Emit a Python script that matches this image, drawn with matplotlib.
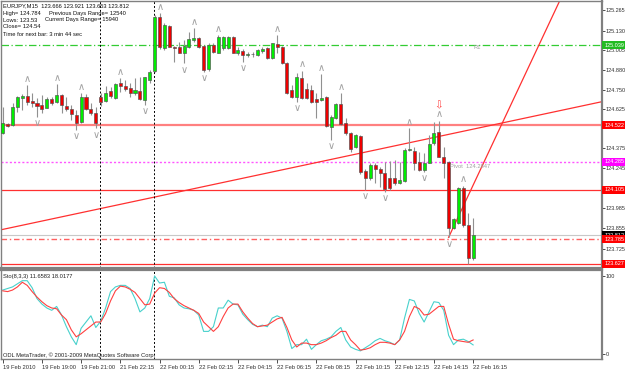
import matplotlib
matplotlib.use('Agg')
import matplotlib.pyplot as plt
import matplotlib.transforms as mtransforms
from matplotlib.patches import Rectangle

# ---------------- data ----------------
opens = [124.469, 124.530, 124.523, 124.637, 124.697, 124.710, 124.678, 124.667, 124.650, 124.635,
         124.689, 124.674, 124.717, 124.648, 124.624, 124.588, 124.545, 124.702, 124.624, 124.598,
         124.706, 124.680, 124.742, 124.695, 124.792, 124.777, 124.760, 124.727, 124.745, 124.684,
         124.813, 124.874, 125.222, 125.018, 125.162, 125.028, 125.028, 124.990, 125.028, 125.071,
         125.082, 125.033, 124.882, 125.039, 124.990, 125.018, 125.018, 125.093, 124.990, 125.003,
         124.975, 124.979, 124.973, 125.003, 125.018, 124.953, 125.044, 125.028, 124.921, 124.749,
         124.706, 124.828, 124.753, 124.749, 124.689, 124.684, 124.702, 124.508, 124.566, 124.659,
         124.534, 124.469, 124.379, 124.452, 124.228, 124.179, 124.265, 124.237, 124.211, 124.179,
         124.179, 124.147, 124.164, 124.362, 124.358, 124.287, 124.233, 124.280, 124.405, 124.476,
         124.319, 124.287, 123.856, 123.893, 124.114, 123.878, 123.666]
highs = [124.637, 124.538, 124.663, 124.710, 124.723, 124.781, 124.732, 124.695, 124.717, 124.706,
         124.706, 124.788, 124.723, 124.706, 124.652, 124.620, 124.727, 124.721, 124.663, 124.641,
         124.727, 124.775, 124.766, 124.792, 124.824, 124.813, 124.792, 124.824, 124.831, 124.835,
         124.878, 125.233, 125.243, 125.179, 125.168, 125.033, 125.061, 125.071, 125.125, 125.147,
         125.093, 125.039, 125.050, 125.054, 125.104, 125.097, 125.097, 125.097, 125.028, 125.011,
         124.996, 124.996, 125.011, 125.028, 125.024, 125.054, 125.104, 125.033, 124.932, 124.781,
         124.861, 124.874, 124.792, 124.781, 124.727, 124.852, 124.710, 124.588, 124.663, 124.727,
         124.566, 124.480, 124.463, 124.459, 124.237, 124.276, 124.276, 124.254, 124.287, 124.293,
         124.297, 124.287, 124.373, 124.502, 124.383, 124.351, 124.340, 124.459, 124.545, 124.551,
         124.383, 124.291, 123.921, 124.121, 124.130, 123.953, 123.921]
lows = [124.465, 124.508, 124.517, 124.609, 124.620, 124.652, 124.641, 124.577, 124.598, 124.631,
        124.652, 124.663, 124.598, 124.616, 124.555, 124.491, 124.538, 124.620, 124.588, 124.502,
        124.646, 124.674, 124.695, 124.689, 124.738, 124.745, 124.702, 124.717, 124.684, 124.652,
        124.792, 124.867, 125.011, 125.007, 125.024, 124.932, 124.985, 124.921, 125.018, 125.061,
        125.018, 124.867, 124.874, 124.985, 124.985, 125.007, 125.011, 124.985, 124.975, 124.932,
        124.960, 124.960, 124.968, 124.985, 124.947, 124.949, 124.985, 124.917, 124.723, 124.695,
        124.674, 124.691, 124.691, 124.667, 124.566, 124.680, 124.512, 124.426, 124.560, 124.523,
        124.459, 124.351, 124.373, 124.207, 124.104, 124.168, 124.147, 124.125, 124.093, 124.104,
        124.136, 124.142, 124.158, 124.358, 124.233, 124.228, 124.222, 124.276, 124.394, 124.315,
        124.179, 123.798, 123.850, 123.884, 123.867, 123.626, 123.653]
closes = [124.534, 124.517, 124.637, 124.702, 124.710, 124.674, 124.667, 124.646, 124.624, 124.689,
          124.667, 124.717, 124.652, 124.624, 124.594, 124.538, 124.702, 124.624, 124.598, 124.538,
          124.674, 124.732, 124.710, 124.788, 124.777, 124.755, 124.727, 124.749, 124.691, 124.831,
          124.867, 125.222, 125.028, 125.168, 125.028, 125.022, 124.990, 125.033, 125.076, 125.082,
          125.028, 124.878, 125.039, 124.996, 125.093, 125.093, 125.093, 124.990, 125.007, 124.975,
          124.983, 124.981, 125.007, 125.016, 124.953, 125.050, 125.028, 124.921, 124.727, 124.706,
          124.835, 124.695, 124.695, 124.674, 124.674, 124.697, 124.517, 124.577, 124.659, 124.530,
          124.469, 124.366, 124.459, 124.222, 124.179, 124.265, 124.237, 124.211, 124.108, 124.114,
          124.151, 124.168, 124.362, 124.370, 124.280, 124.233, 124.276, 124.401, 124.469, 124.319,
          124.280, 123.856, 123.915, 124.114, 123.878, 123.663, 123.812]

fractal_up = [5, 11, 16, 24, 32, 39, 44, 56, 61, 65, 69, 83, 89, 94]
fractal_down = [7, 15, 19, 29, 37, 41, 49, 60, 67, 74, 78, 86, 91]
signal_bar = 89

stoch_main = [82, 84, 86, 90, 94, 94, 85, 71, 64, 59, 56, 61, 50, 35, 22, 12, 33, 41, 49, 34,
              42, 59, 80, 86, 88, 88, 84, 71, 54, 59, 71, 100, 91, 92, 74, 72, 63, 59, 58, 56,
              50, 29, 29, 35, 59, 59, 69, 64, 63, 51, 44, 38, 35, 37, 35, 46, 49, 46, 29, 7,
              12, 12, 19, 6, 12, 17, 19, 22, 29, 34, 18, 9, 6, 4, 8, 12, 17, 20, 17, 15,
              12, 18, 46, 70, 68, 52, 41, 54, 67, 66, 56, 24, 12, 18, 19, 16, 11.6583]
stoch_signal = [81, 80, 82, 86, 92, 88, 80, 73, 67, 62, 59, 58, 50, 44, 31, 22, 26, 31, 36, 41,
                41, 52, 68, 81, 87, 86, 83, 79, 71, 63, 64, 78, 85, 84, 79, 71, 66, 62, 59, 56,
                52, 41, 35, 29, 35, 48, 59, 64, 64, 54, 46, 39, 35, 36, 37, 41, 45, 47, 34, 18,
                9, 14, 14, 12, 12, 14, 17, 21, 24, 29, 29, 18, 12, 5, 6, 8, 12, 15, 15, 14,
                12, 18, 29, 48, 61, 58, 50, 51, 56, 61, 61, 38, 19, 17, 16, 15, 18.0177]

# horizontal levels: (price, label, colour, linestyle, width, label box colour)
levels = [
    (125.039, '125.039', '#33cc33', (0, (6, 2, 1, 2)), 0.9, '#22bb22'),
    (124.522, '124.522', '#ff8080', '-', 1.6, '#ff0000'),
    (124.285, '124.285', '#ff55ff', (0, (1.5, 1.5)), 1.0, '#ff00ff'),
    (124.105, '124.105', '#ff3030', '-', 0.9, '#ff0000'),
    (123.812, '123.812', '#c8c8c8', '-', 0.8, '#000000'),
    (123.785, '123.785', '#ff6060', (0, (4, 2, 1, 2)), 1.0, '#ff0000'),
    (123.627, '123.627', '#ff3030', '-', 0.9, '#ff0000'),
]
pivot_value = 124.2847

trend1 = [(0, 123.849), (100, 124.523)]
trend2 = [(91, 123.798), (97, 124.202)]

separators = [19.9, 30.9]

price_ticks = [125.265, 125.130, 125.005, 124.880, 124.750, 124.625, 124.375, 124.245,
               123.985, 123.855, 123.725]
time_idx = [0, 8, 16, 24, 32, 40, 48, 56, 64, 72, 80, 88, 96]
time_labels = ['19 Feb 2010', '19 Feb 19:00', '19 Feb 21:00', '21 Feb 22:15', '22 Feb 00:15',
               '22 Feb 02:15', '22 Feb 04:15', '22 Feb 06:15', '22 Feb 08:15', '22 Feb 10:15',
               '22 Feb 12:15', '22 Feb 14:15', '22 Feb 16:15']

header = ['EURJPY,M15  123.666 123.921 123.653 123.812',
          'High= 124.784', 'Lows: 123.53', 'Close= 124.54', 'Time for next bar: 3 min 44 sec']
header_right = ['Previous Days Range= 12540', 'Current Days Range= 15940']

# ---------------- drawing ----------------
FONT = ['Liberation Sans', 'DejaVu Sans']
plt.rcParams['font.family'] = FONT
FS = 4.15
FSR = 4.0
W, H = 625, 370
fig = plt.figure(figsize=(W / 100, H / 100), dpi=100)
fig.patch.set_facecolor('white')


def fx(px):
    return px / W


def fy(py):
    return 1 - py / H


ax = fig.add_axes([fx(1), fy(268), fx(602) - fx(1), fy(1) - fy(268)])
ax2 = fig.add_axes([fx(1), fy(359), fx(602) - fx(1), fy(270) - fy(359)])

XMIN, XMAX = -0.35, 122.3
for a in (ax, ax2):
    a.set_xlim(XMIN, XMAX)
    a.set_facecolor('white')
    for s in a.spines.values():
        s.set_color('#808080')
        s.set_linewidth(1.0)
ax.spines['right'].set_linewidth(1.6)
ax2.spines['right'].set_linewidth(1.6)
ax.spines['bottom'].set_linewidth(1.6)
ax2.spines['top'].set_linewidth(1.6)
ax.set_ylim(123.600, 125.323)
ax2.set_ylim(-6.4, 107.7)

# horizontal levels
blend = mtransforms.blended_transform_factory(ax.transAxes, ax.transData)
for price, lab, col, ls, lw, box in levels:
    ax.axhline(price, color=col, ls=ls, lw=lw, zorder=1)

# trend lines
ax.axline(trend1[0], trend1[1], color='#ff3030', lw=0.9, zorder=1)
(x1, y1), (x2, y2) = trend2
slope = (y2 - y1) / (x2 - x1)
ax.plot([x1, XMAX + 5], [y1, y1 + slope * (XMAX + 5 - x1)], color='#ff3030', lw=0.9, zorder=1)

# separators
for s in separators:
    ax.axvline(s, color='black', ls=(0, (2, 2)), lw=0.7, zorder=1)
    ax2.axvline(s, color='black', ls=(0, (2, 2)), lw=0.7, zorder=1)

# candles
bw = 0.62
for i, (o, h, l, c) in enumerate(zip(opens, highs, lows, closes)):
    ax.vlines(i, l, h, color='#909090', lw=0.8, zorder=2)
    bull = c >= o
    lo, hi = min(o, c), max(o, c)
    ax.add_patch(Rectangle((i - bw / 2, lo), bw, max(hi - lo, 0.004),
                           facecolor='#00ee00' if bull else '#ee0000',
                           edgecolor='#505050', lw=0.45, zorder=3))

# fractals
for i in fractal_up:
    ax.annotate(r'$\wedge$', (i, highs[i]), xytext=(0, 4.6), textcoords='offset points',
                ha='center', va='center', color='#a0a0a0', fontsize=7, zorder=4)
for i in fractal_down:
    ax.annotate(r'$\vee$', (i, lows[i]), xytext=(0, -4.6), textcoords='offset points',
                ha='center', va='center', color='#a0a0a0', fontsize=7, zorder=4)
ax.annotate('⇩', (signal_bar, highs[signal_bar]), xytext=(0, 11), textcoords='offset points',
            ha='center', va='center', color='#ff4040', fontsize=7.5,
            family=['DejaVu Sans'], zorder=4)

# labels on chart
ax.text(96, levels[0][0], 'R1', color='#a0a0a0', fontsize=FS, ha='left', va='top')
ax.annotate(f'Pivot  {pivot_value:.4f}', (91.3, pivot_value), xytext=(0, -1.5),
            textcoords='offset points', color='#a0a0a0', fontsize=FS, ha='left', va='top')

# right axis
ax.yaxis.tick_right()
ax.set_yticks(price_ticks)
ax.set_yticklabels([f'{t:.3f}' for t in price_ticks])
ax.tick_params(axis='y', direction='out', length=2, width=0.6, colors='#303030',
               labelsize=FSR, pad=0.6)
ax.set_xticks([])
for price, lab, col, ls, lw, box in levels:
    ax.text(1.0035, price, lab, transform=blend, ha='left', va='center', color='white',
            fontsize=FSR, clip_on=False, zorder=6,
            bbox=dict(boxstyle='square,pad=0.3', fc=box, ec='none'))

# stochastic panel
xs = list(range(len(stoch_main)))
ax2.plot(xs, stoch_signal, color='#ff4040', lw=0.8, zorder=3)
ax2.plot(xs, stoch_main, color='#48d1cc', lw=0.8, zorder=2)
ax2.yaxis.tick_right()
ax2.set_yticks([0, 100])
ax2.set_yticklabels(['0', '100'])
ax2.tick_params(axis='y', direction='out', length=2, width=0.6, colors='#303030',
                labelsize=FSR, pad=0.6)
ax2.set_xticks(time_idx)
ax2.set_xticklabels(time_labels)
ax2.tick_params(axis='x', direction='out', length=3, width=0.6, colors='#303030',
                labelsize=FS, pad=1.5)
for t in ax2.get_xticklabels():
    t.set_horizontalalignment('left')
ax2.text(0.004, 0.93, 'Sto(8,3,3) 11.6583 18.0177', transform=ax2.transAxes,
         fontsize=FS, color='#202020', ha='left', va='center')
ax2.text(0.004, 0.045, 'ODL MetaTrader, © 2001-2009 MetaQuotes Software Corp.',
         transform=ax2.transAxes, fontsize=FS, color='#202020', ha='left', va='center')

# header text
ys = [6, 13, 20, 27, 34]
for t, y in zip(header, ys):
    fig.text(fx(3), fy(y), t, fontsize=FS, color='#101010', ha='left', va='center')
fig.text(fx(49), fy(13), header_right[0], fontsize=FS, color='#101010', ha='left', va='center')
fig.text(fx(45), fy(20), header_right[1], fontsize=FS, color='#101010', ha='left', va='center')

fig.savefig('out.png', dpi=100, facecolor='white')
